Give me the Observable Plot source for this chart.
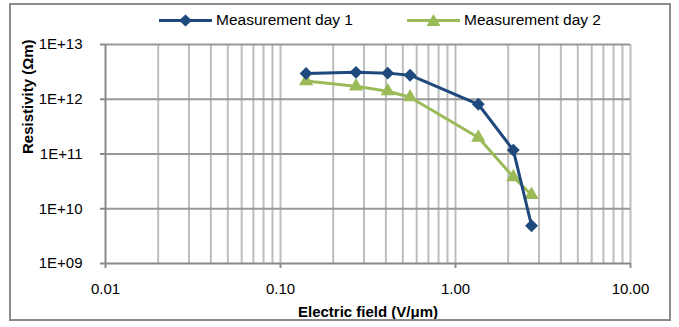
<!DOCTYPE html>
<html><head><meta charset="utf-8">
<script src="https://cdn.jsdelivr.net/npm/d3@7"></script>
<script src="https://cdn.jsdelivr.net/npm/@observablehq/plot@0.6"></script>
<style>
body{margin:0;background:#fff;font-family:"Liberation Sans",Arial,sans-serif;}
#wrap{position:relative;width:679px;height:327px;overflow:hidden;background:#fff;}
#frame{position:absolute;left:9px;top:3px;width:662px;height:318px;border:2px solid #8a8a8a;box-sizing:border-box;pointer-events:none;}
#chart{position:absolute;left:0;top:0;}
.leg{position:absolute;top:10px;height:20px;display:flex;align-items:center;font-size:15.5px;color:#000;white-space:nowrap;}
.leg svg{margin-right:4px;}
</style></head>
<body>
<div id="wrap"><div id="chart"></div><div id="legend"></div><div id="frame"></div></div>
<script>
const seriesNames = ["Measurement day 1", "Measurement day 2"];
const seriesColors = ["#1F497D", "#9BBB59"];
const fieldDay1 = [0.14, 0.27, 0.41, 0.55, 1.35, 2.14, 2.72];
const resistDay1 = [2.95e12, 3.1e12, 3.0e12, 2.75e12, 8.1e11, 1.18e11, 4.9e9];
const fieldDay2 = [0.14, 0.27, 0.41, 0.55, 1.35, 2.14, 2.72];
const resistDay2 = [2.15e12, 1.72e12, 1.4e12, 1.09e12, 2.0e11, 3.8e10, 1.8e10];
const xTicks = [0.01, 0.1, 1, 10];
const yTicks = [1e9, 1e10, 1e11, 1e12, 1e13];

const d1 = fieldDay1.map((x, i) => ({x, y: resistDay1[i]}));
const d2 = fieldDay2.map((x, i) => ({x, y: resistDay2[i]}));
const minorX = [];
xTicks.slice(0, -1).forEach(d => { for (let k = 1; k <= 9; k++) minorX.push(d * k); });
minorX.push(10);

const chart = Plot.plot({
  width: 679, height: 327,
  marginTop: 44, marginBottom: 64, marginLeft: 105, marginRight: 49,
  style: {fontFamily: '"Liberation Sans", Arial, sans-serif', fontSize: "15px", color: "#000", background: "transparent"},
  x: {type: "log", domain: [0.01, 10]},
  y: {type: "log", domain: [1e9, 1e13]},
  marks: [
    Plot.ruleX(minorX.slice(1), {stroke: "#bdbdbd", strokeWidth: 2}),
    Plot.ruleY(yTicks.slice(1), {stroke: "#989898", strokeWidth: 2}),
    Plot.ruleX([0.01], {stroke: "#8a8a8a", strokeWidth: 2}),
    Plot.ruleY([1e9], {stroke: "#8a8a8a", strokeWidth: 2}),
    Plot.axisX({ticks: xTicks, tickFormat: d => d.toFixed(2), tickSize: 5, tickPadding: 15, stroke: "#8a8a8a", strokeWidth: 2, label: null, fontSize: 15}),
    Plot.axisY({ticks: yTicks, tickFormat: d => "1E+" + String(Math.round(Math.log10(d))).padStart(2, "0"), tickSize: 5, tickPadding: 18, stroke: "#8a8a8a", strokeWidth: 2, label: null, fontSize: 15}),
    Plot.text(["Electric field (V/μm)"], {frameAnchor: "bottom", dy: 49, lineAnchor: "middle", fontWeight: "bold", fontSize: 15, fill: "#000"}),
    Plot.text(["Resistivity (Ωm)"], {frameAnchor: "left", dx: -77, rotate: -90, lineAnchor: "middle", fontWeight: "bold", fontSize: 15, fill: "#000"}),
    Plot.line(d2, {x: "x", y: "y", stroke: seriesColors[1], strokeWidth: 3}),
    Plot.dot(d2, {x: "x", y: "y", symbol: "triangle", r: 5.3, fill: seriesColors[1], stroke: "none"}),
    Plot.line(d1, {x: "x", y: "y", stroke: seriesColors[0], strokeWidth: 3}),
    Plot.dot(d1, {x: "x", y: "y", symbol: "diamond2", r: 5.8, fill: seriesColors[0], stroke: "none"})
  ]
});
document.getElementById("chart").appendChild(chart);

const legend = document.getElementById("legend");
const legLeft = [159, 407];
const legSym = [
  '<path d="M26.5,4.5 L33,10.5 L26.5,16.5 L20,10.5Z"/>',
  '<path d="M26.5,4 L33.5,16 L19.5,16Z"/>'
];
seriesNames.forEach((name, i) => {
  const el = document.createElement("div");
  el.className = "leg";
  el.style.left = legLeft[i] + "px";
  el.innerHTML = `<svg width="53" height="21"><line x1="0" x2="53" y1="10.5" y2="10.5" stroke="${seriesColors[i]}" stroke-width="3"/><g fill="${seriesColors[i]}">${legSym[i]}</g></svg><span>${name}</span>`;
  legend.appendChild(el);
});
</script>
</body></html>
